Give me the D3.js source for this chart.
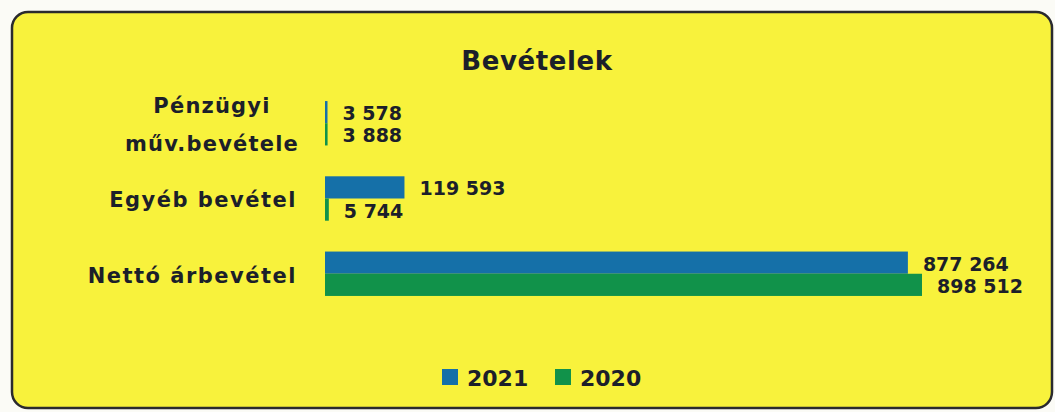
<!DOCTYPE html>
<html>
<head>
<meta charset="utf-8">
<script src="https://cdn.jsdelivr.net/npm/d3@7"></script>
<style>
	body { margin: 0; background: #fbfbf6; }
	text { font-family: "DejaVu Sans", sans-serif; font-weight: bold; fill: #1c1f2a; }
</style>
</head>
<body>
<div id="main"></div>
<script>
const categories = ["Pénzügyi műv.bevétele", "Egyéb bevétel", "Nettó árbevétel"];
const categoryLines = [["Pénzügyi", "műv.bevétele"], ["Egyéb bevétel"], ["Nettó árbevétel"]];
const seriesNames = ["2021", "2020"];
const values2021 = [3578, 119593, 877264];
const values2020 = [3888, 5744, 898512];
const seriesColors = ["#1570a8", "#11924a"];

const fmt = (v) => d3.format(",")(v).replace(/,/g, " ");

const width = 1055,
	height = 412;

const svg = d3
	.select("#main")
	.append("svg")
	.attr("width", width)
	.attr("height", height);

svg.append("rect")
	.attr("x", 12)
	.attr("y", 12)
	.attr("width", 1040)
	.attr("height", 396)
	.attr("rx", 16)
	.style("fill", "#f8f23c")
	.style("stroke", "#2a2a2e")
	.style("stroke-width", 2.5);

svg.append("text")
	.attr("x", 537)
	.attr("y", 70)
	.attr("text-anchor", "middle")
	.style("font-size", "26px")
	.style("letter-spacing", "0.6px")
	.text("Bevételek");

const x = d3.scaleLinear().domain([0, 898512]).range([325, 922]);
const y = d3
	.scaleBand()
	.domain(categories)
	.range([86, 311])
	.paddingInner(0.41)
	.paddingOuter(0.2);
const ySub = d3.scaleBand().domain(seriesNames).range([0, y.bandwidth()]);

const rows = categories.map((c, i) => ({
	cat: c,
	lines: categoryLines[i],
	vals: [values2021[i], values2020[i]],
}));

const groups = svg
	.selectAll("g.row")
	.data(rows)
	.enter()
	.append("g")
	.classed("row", true)
	.attr("transform", (d) => `translate(0,${y(d.cat)})`);

groups
	.selectAll("rect.bar")
	.data((d) => d.vals.map((v, j) => ({ v: v, s: seriesNames[j], j: j })))
	.enter()
	.append("rect")
	.classed("bar", true)
	.attr("x", x(0))
	.attr("y", (d) => ySub(d.s))
	.attr("width", (d) => Math.max(2.5, x(d.v) - x(0)))
	.attr("height", ySub.bandwidth())
	.style("fill", (d) => seriesColors[d.j]);

groups
	.selectAll("text.val")
	.data((d) => d.vals.map((v, j) => ({ v: v, s: seriesNames[j] })))
	.enter()
	.append("text")
	.classed("val", true)
	.attr("x", (d) => Math.max(x(d.v), x(0) + 2) + 15)
	.attr("y", (d) => ySub(d.s) + ySub.bandwidth() / 2 + 8)
	.style("font-size", "19px")
	.text((d) => fmt(d.v));

// category labels, the first one on two centred lines
groups.each(function (d) {
	const g = d3.select(this);
	const mid = y.bandwidth() / 2;
	if (d.lines.length === 2) {
		d.lines.forEach((l, k) => {
			g.append("text")
				.attr("x", 212)
				.attr("y", mid - 10 + k * 38)
				.attr("text-anchor", "middle")
				.style("font-size", "21px")
				.style("letter-spacing", "1.2px")
				.text(l);
		});
	} else {
		g.append("text")
			.attr("x", 297)
			.attr("y", mid + 9)
			.attr("text-anchor", "end")
			.style("font-size", "21px")
			.style("letter-spacing", "1.5px")
			.text(d.lines[0]);
	}
});

const legend = svg
	.append("g")
	.selectAll("g")
	.data(seriesNames)
	.enter()
	.append("g")
	.attr("transform", (d, i) => `translate(${442 + i * 113},369)`);
legend
	.append("rect")
	.attr("width", 16)
	.attr("height", 16)
	.style("fill", (d, i) => seriesColors[i]);
legend
	.append("text")
	.attr("x", 25)
	.attr("y", 17)
	.style("font-size", "22px")
	.text((d) => d);
</script>
</body>
</html>
